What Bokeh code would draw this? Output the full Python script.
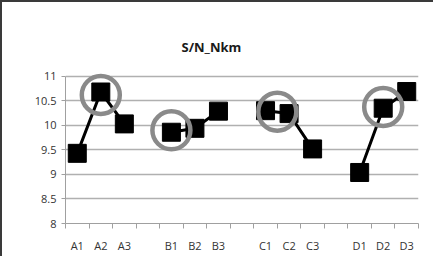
from bokeh.plotting import figure
from bokeh.models import Range1d, FixedTicker, ColumnDataSource
from bokeh.embed import file_html
from bokeh.resources import INLINE

# ---- data ----
groups = ["A", "B", "C", "D"]
levels = ["1", "2", "3"]
values_A = [9.43, 10.68, 10.03]
values_B = [9.86, 9.94, 10.29]
values_C = [10.30, 10.24, 9.52]
values_D = [9.04, 10.35, 10.69]
series = [values_A, values_B, values_C, values_D]

ring_cats = ["A2", "B1", "C1", "D2"]
ring_vals = [10.62, 9.90, 10.28, 10.375]
ring_shift = [0.0, 0.0, 0.5, 0.0]

y_ticks = [8, 8.5, 9, 9.5, 10, 10.5, 11]

# category slot positions (groups separated by one empty slot)
slot_w = len(levels) + 1
n_slots = len(groups) * slot_w - 1
cat_x = {}
for gi, g in enumerate(groups):
    for li, l in enumerate(levels):
        cat_x[g + l] = gi * slot_w + li + 0.5

p = figure(width=433, height=256, output_backend="svg", toolbar_location=None,
           x_range=Range1d(0, n_slots), y_range=Range1d(8, 11.2),
           min_border_left=63, min_border_right=17, min_border_bottom=35,
           min_border_top=64)
p.styles = {"border-top": "2px solid #3a3a3a", "border-left": "2px solid #3a3a3a"}
p.outline_line_color = None
p.background_fill_color = "white"
p.border_fill_color = "white"

p.title.text = "S/N_Nkm"
p.title.text_font = "Open Sans"
p.title.text_font_size = "13px"
p.title.text_font_style = "bold"
p.title.text_color = "#1a1a1a"
p.title.align = "left"
p.title.offset = 116
p.title.standoff = 17
p.title.vertical_align = "top"

# lines and markers per group
for gi, g in enumerate(groups):
    xs = [cat_x[g + l] for l in levels]
    ys = series[gi]
    src = ColumnDataSource(dict(x=xs, y=ys))
    p.line("x", "y", source=src, line_color="black", line_width=3)
    p.scatter("x", "y", source=src, marker="square", size=18,
              fill_color="black", line_color="black")

# highlight rings
rx = [cat_x[c] + s for c, s in zip(ring_cats, ring_shift)]
p.scatter(rx, ring_vals, marker="circle", size=38, fill_color=None,
          line_color="#8a8a8a", line_width=4.5)

# axes
p.yaxis.ticker = FixedTicker(ticks=y_ticks)
p.yaxis.bounds = (8, 11)
p.yaxis.axis_line_color = "#a0a0a0"
p.yaxis.major_tick_line_color = "#a0a0a0"
p.yaxis.major_tick_out = 4
p.yaxis.major_tick_in = 0
p.yaxis.minor_tick_line_color = None
p.yaxis.major_label_text_font = "Open Sans"
p.yaxis.major_label_text_font_size = "11px"
p.yaxis.major_label_text_color = "#333333"
p.yaxis.major_label_standoff = 5

label_pos = [cat_x[g + l] for g in groups for l in levels]
boundaries = list(range(0, n_slots + 1))
p.xaxis.ticker = FixedTicker(ticks=label_pos, minor_ticks=boundaries)
p.xaxis.major_label_overrides = {x: k for k, x in cat_x.items()}
p.xaxis.axis_line_color = "#a0a0a0"
p.xaxis.major_tick_line_color = None
p.xaxis.minor_tick_line_color = "#a0a0a0"
p.xaxis.minor_tick_out = 5
p.xaxis.minor_tick_in = 0
p.xaxis.major_label_text_font = "Open Sans"
p.xaxis.major_label_text_font_size = "11px"
p.xaxis.major_label_text_color = "#333333"
p.xaxis.major_label_standoff = 8

p.xgrid.grid_line_color = None
p.ygrid.ticker = FixedTicker(ticks=[t for t in y_ticks if t > 8])
p.ygrid.grid_line_color = "#b0b0b0"
p.ygrid.grid_line_width = 1.5

open("out.html", "w").write(file_html(p, INLINE))
